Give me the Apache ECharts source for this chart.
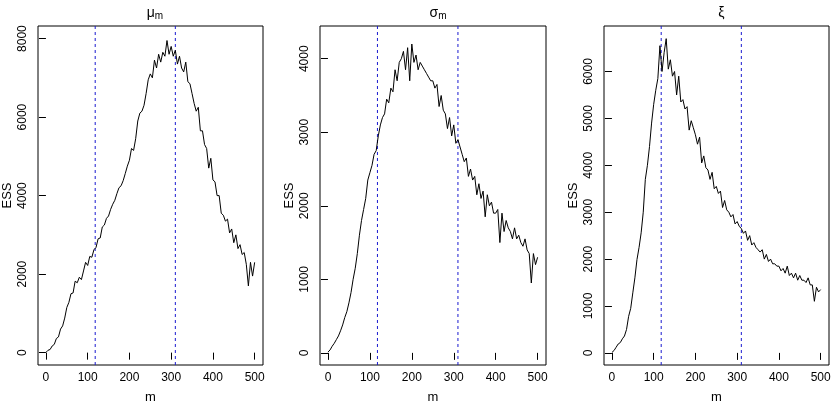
<!DOCTYPE html>
<html lang="en">
<head>
    <meta charset="UTF-8">
    <title>ESS by m</title>
    <script src="https://cdn.jsdelivr.net/npm/echarts@6.0.0/dist/echarts.min.js"></script>
</head>
<body style="margin:0;background:#fff;">
    <div id="main" style="width: 836px;height:410px;"></div>
    <script type="text/javascript">
        // m grid, one reading every 5 units
        const mValues = [];
        for (let m = 0; m <= 500; m += 5) mValues.push(m);

        // ESS (m = 0, 5, ..., 500)
        const essMu = [
            5, 60, 80, 170, 210, 360, 400, 600, 680, 880,
            1150, 1280, 1500, 1520, 1820, 1780, 1920, 1860, 2080, 2300,
            2220, 2450, 2430, 2620, 2680, 2900, 2920, 3200, 3250, 3420,
            3480, 3650, 3780, 3880, 4050, 4200, 4250, 4380, 4560, 4750,
            4900, 5200, 5150, 5450, 5900, 6100, 6150, 6300, 6600, 6950,
            7100, 7000, 7450, 7250, 7600, 7400, 7650, 7550, 7950, 7600,
            7800, 7550, 7700, 7350, 7550, 7250, 7150, 7400, 6900, 6850,
            6600, 6350, 6150, 6250, 5650, 5650, 5300, 5200, 4700, 4950,
            4400, 4350, 4000, 4000, 3550, 3500, 3350, 3400, 3050, 3150,
            2800, 3000, 2650, 2750, 2500, 2550, 2250, 1700, 2300, 1950,
            2300
        ];
        const essSigma = [
            10, 40, 90, 130, 180, 230, 300, 380, 480, 560,
            680, 820, 1000, 1150, 1350, 1600, 1800, 1950, 2100, 2350,
            2450, 2550, 2700, 2750, 2950, 3100, 3200, 3250, 3450, 3400,
            3600, 3550, 3850, 3700, 3950, 4000, 4100, 3850, 4150, 3700,
            4200, 3950, 4050, 3850, 3950, 3900, 3850, 3800, 3750, 3700,
            3700, 3600, 3650, 3350, 3500, 3300, 3250, 3050, 3200, 2950,
            3100, 2850, 2900, 2800, 2700, 2600, 2650, 2400, 2500, 2350,
            2400, 2150, 2300, 2100, 2200, 1850, 2150, 2000, 2050, 1900,
            1900, 1950, 1500, 1900, 1650, 1800, 1700, 1650, 1550, 1700,
            1550, 1600, 1500, 1450, 1550, 1400, 1350, 950, 1350, 1200,
            1300
        ];
        const essXi = [
            10, 50, 120, 190, 220, 300, 360, 500, 780, 950,
            1280, 1600, 1990, 2250, 2560, 3000, 3700, 4000, 4400, 4900,
            5300, 5600, 5850, 6550, 6000, 6400, 6700, 6050, 6250, 5900,
            6000, 5500, 5900, 5350, 5400, 5200, 5250, 4750, 4950, 4800,
            4650, 4450, 4600, 4050, 4200, 3950, 3900, 3700, 3850, 3500,
            3550, 3400, 3450, 3100, 3250, 3050, 3000, 2900, 2950, 2750,
            2800, 2700, 2650, 2550, 2600, 2400, 2500, 2300, 2350, 2250,
            2200, 2150, 2200, 2000, 2100, 1950, 2000, 1900, 1900, 1850,
            1850, 1750, 1800, 1700, 1850, 1650, 1700, 1600, 1700, 1550,
            1650, 1550, 1550, 1500, 1600, 1450, 1450, 1100, 1400, 1300,
            1350
        ];

        const xTicks = [0, 100, 200, 300, 400, 500];
        const yTicksMu = [0, 2000, 4000, 6000, 8000];
        const yTicksSigma = [0, 1000, 2000, 3000, 4000];
        const yTicksXi = [0, 1000, 2000, 3000, 4000, 5000, 6000];
        const cutPoints = [118, 310];

        const FONT = '"Liberation Sans", Arial, sans-serif';
        const CUT_COLOR = '#1a1ad0';
        const panels = [
            { sym: 'μ', sub: 'm', left: 37, width: 226, y: essMu, ticks: yTicksMu, ymin: -315, ymax: 8320 },
            { sym: 'σ', sub: 'm', left: 320, width: 226, y: essSigma, ticks: yTicksSigma, ymin: -165, ymax: 4445 },
            { sym: 'ξ', sub: '', left: 604, width: 225, y: essXi, ticks: yTicksXi, ymin: -258, ymax: 6970 }
        ];

        let myChart = echarts.init(document.getElementById('main'));

        const option = {
            backgroundColor: '#fff',
            animation: false,
            title: [], grid: [], xAxis: [], yAxis: [], series: []
        };

        panels.forEach((p, i) => {
            option.title.push({
                text: p.sub ? '{t|' + p.sym + '}{s|' + p.sub + '}' : '{t|' + p.sym + '}',
                left: p.left + p.width / 2, top: 0, textAlign: 'center',
                textStyle: {
                    fontWeight: 'normal',
                    rich: {
                        t: { fontFamily: FONT, fontSize: 14, fontWeight: 'normal', color: '#000', lineHeight: 16 },
                        s: { fontFamily: FONT, fontSize: 10, fontWeight: 'normal', color: '#000', lineHeight: 16, padding: [6, 0, 0, 0] }
                    }
                }
            });
            option.grid.push({
                left: p.left, top: 26, width: p.width, height: 339,
                show: true, borderColor: '#000', borderWidth: 1, backgroundColor: 'transparent'
            });
            option.xAxis.push({
                type: 'value', gridIndex: i, min: -19, max: 520,
                name: 'm', nameLocation: 'middle', nameGap: 26,
                nameTextStyle: { fontFamily: FONT, fontSize: 13, color: '#000' },
                axisLine: { show: false },
                splitLine: { show: false },
                axisTick: { show: true, inside: false, length: 7, customValues: xTicks, lineStyle: { color: '#000' } },
                axisLabel: { customValues: xTicks, margin: 7, fontFamily: FONT, fontSize: 12, color: '#000' }
            });
            option.yAxis.push({
                type: 'value', gridIndex: i, min: p.ymin, max: p.ymax,
                name: 'ESS', nameLocation: 'middle', nameGap: 24, nameRotate: 90,
                nameTextStyle: { fontFamily: FONT, fontSize: 13, color: '#000' },
                axisLine: { show: false },
                splitLine: { show: false },
                axisTick: { show: true, inside: false, length: 7, customValues: p.ticks, lineStyle: { color: '#000' } },
                axisLabel: {
                    customValues: p.ticks, rotate: 90, margin: 9,
                    fontFamily: FONT, fontSize: 12, color: '#000',
                    formatter: v => String(v)
                }
            });
            // dashed vertical cut lines, drawn as their own two-point series
            cutPoints.forEach(c => {
                option.series.push({
                    type: 'line', xAxisIndex: i, yAxisIndex: i,
                    data: [[c, p.ymin], [c, p.ymax]],
                    showSymbol: false, symbol: 'none', silent: true,
                    lineStyle: { color: CUT_COLOR, width: 1, type: [3, 3] }
                });
            });
            option.series.push({
                type: 'line', xAxisIndex: i, yAxisIndex: i,
                data: mValues.map((m, k) => [m, p.y[k]]),
                showSymbol: false, symbol: 'none',
                lineStyle: { color: '#000', width: 1 }
            });
        });

        myChart.setOption(option);
    </script>
</body>
</html>
